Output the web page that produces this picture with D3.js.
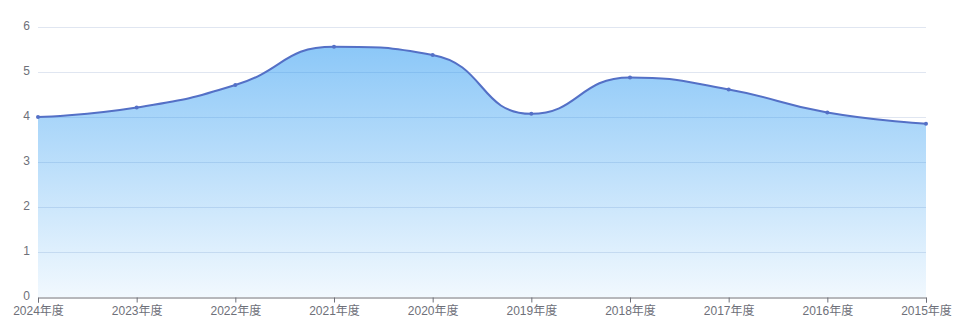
<!DOCTYPE html>
<html>
<head>
<meta charset="utf-8">
<script src="https://cdn.jsdelivr.net/npm/d3@7"></script>
<style>
  html, body { margin: 0; padding: 0; background: #fff; }
  svg text { font-family: "Liberation Sans", "Noto Sans CJK SC", sans-serif; font-size: 12px; fill: #6e7079; }
</style>
</head>
<body>
<div id="chart"></div>
<script>
  // data
  var years = ['2024年度', '2023年度', '2022年度', '2021年度', '2020年度', '2019年度', '2018年度', '2017年度', '2016年度', '2015年度'];
  var values = [4.0, 4.21, 4.71, 5.56, 5.38, 4.07, 4.88, 4.61, 4.10, 3.85];
  var yTicks = [0, 1, 2, 3, 4, 5, 6];

  var width = 964, height = 333;
  var margin = { top: 27, right: 38, bottom: 36, left: 38 };

  var svg = d3.select('#chart').append('svg')
    .attr('width', width)
    .attr('height', height);

  var x = d3.scalePoint()
    .domain(years)
    .range([margin.left, width - margin.right]);

  var y = d3.scaleLinear()
    .domain([0, 6])
    .range([height - margin.bottom, margin.top]);

  // smooth bezier through the points, control points kept inside neighbour range
  // (same idea as echarts' smooth line, smooth = 0.5)
  function smoothPath(pts, p, smooth) {
    var cpx0, cpy0, cpx1, cpy1, prevX, prevY, nx0, ny0;
    var n = pts.length;
    for (var i = 0; i < n; i++) {
      var px = pts[i][0], py = pts[i][1];
      if (i === 0) {
        p.moveTo(px, py);
        cpx0 = px; cpy0 = py;
      } else {
        if (i === n - 1) {
          cpx1 = px; cpy1 = py;
        } else {
          var nextX = pts[i + 1][0], nextY = pts[i + 1][1];
          var vx = nextX - prevX, vy = nextY - prevY;
          var lenPrev = Math.hypot(px - prevX, py - prevY);
          var lenNext = Math.hypot(nextX - px, nextY - py);
          var ratio = lenNext / (lenNext + lenPrev);
          nx0 = px + vx * smooth * ratio;
          ny0 = py + vy * smooth * ratio;
          nx0 = Math.max(Math.min(nx0, Math.max(nextX, px)), Math.min(nextX, px));
          ny0 = Math.max(Math.min(ny0, Math.max(nextY, py)), Math.min(nextY, py));
          vx = nx0 - px; vy = ny0 - py;
          cpx1 = px - vx * lenPrev / lenNext;
          cpy1 = py - vy * lenPrev / lenNext;
          cpx1 = Math.max(Math.min(cpx1, Math.max(prevX, px)), Math.min(prevX, px));
          cpy1 = Math.max(Math.min(cpy1, Math.max(prevY, py)), Math.min(prevY, py));
          vx = px - cpx1; vy = py - cpy1;
          nx0 = px + vx * lenNext / lenPrev;
          ny0 = py + vy * lenNext / lenPrev;
        }
        p.bezierCurveTo(cpx0, cpy0, cpx1, cpy1, px, py);
        cpx0 = nx0; cpy0 = ny0;
      }
      prevX = px; prevY = py;
    }
    return p;
  }

  var pts = values.map(function (v, i) { return [x(years[i]), y(v)]; });

  var linePath = smoothPath(pts, d3.path(), 0.5);

  var areaPath = smoothPath(pts, d3.path(), 0.5);
  areaPath.lineTo(x(years[years.length - 1]), y(0));
  areaPath.lineTo(x(years[0]), y(0));
  areaPath.closePath();

  // gradient for the area, spans the area's box
  var topY = d3.min(pts, function (d) { return d[1]; });
  var defs = svg.append('defs');
  var grad = defs.append('linearGradient')
    .attr('id', 'areaFill')
    .attr('gradientUnits', 'userSpaceOnUse')
    .attr('x1', 0).attr('y1', topY).attr('x2', 0).attr('y2', y(0));
  grad.append('stop').attr('offset', '0%').attr('stop-color', 'rgb(24,144,240)').attr('stop-opacity', 0.5);
  grad.append('stop').attr('offset', '100%').attr('stop-color', 'rgb(24,144,240)').attr('stop-opacity', 0.06);

  // grid
  svg.append('g')
    .selectAll('line')
    .data(yTicks.filter(function (t) { return t > 0; }))
    .enter().append('line')
    .attr('x1', margin.left)
    .attr('x2', width - margin.right)
    .attr('y1', function (d) { return y(d) + 0.5; })
    .attr('y2', function (d) { return y(d) + 0.5; })
    .attr('stroke', '#e0e6f1');

  svg.append('path')
    .attr('d', areaPath.toString())
    .attr('fill', 'url(#areaFill)');

  svg.append('path')
    .attr('d', linePath.toString())
    .attr('fill', 'none')
    .attr('stroke', '#5470c6')
    .attr('stroke-width', 2);

  svg.append('g')
    .selectAll('circle')
    .data(values)
    .enter().append('circle')
    .attr('cx', function (d, i) { return x(years[i]); })
    .attr('cy', function (d) { return y(d); })
    .attr('r', 2)
    .attr('fill', '#5470c6');

  // y axis labels
  svg.append('g')
    .selectAll('text')
    .data(yTicks)
    .enter().append('text')
    .attr('x', margin.left - 8)
    .attr('y', function (d) { return y(d) - 1; })
    .attr('dy', '0.35em')
    .attr('text-anchor', 'end')
    .text(function (d) { return d; });

  // x axis
  var xAxis = svg.append('g')
    .attr('transform', 'translate(0,' + (y(0) + 0.5) + ')')
    .call(d3.axisBottom(x).tickSize(5).tickPadding(4));
  xAxis.select('.domain').attr('stroke', '#6e7079');
  xAxis.selectAll('.tick line').attr('stroke', '#6e7079');
  xAxis.selectAll('text')
    .attr('fill', '#6e7079')
    .style('font-family', '"Liberation Sans", "Noto Sans CJK SC", sans-serif')
    .style('font-size', '12px');
</script>
</body>
</html>
